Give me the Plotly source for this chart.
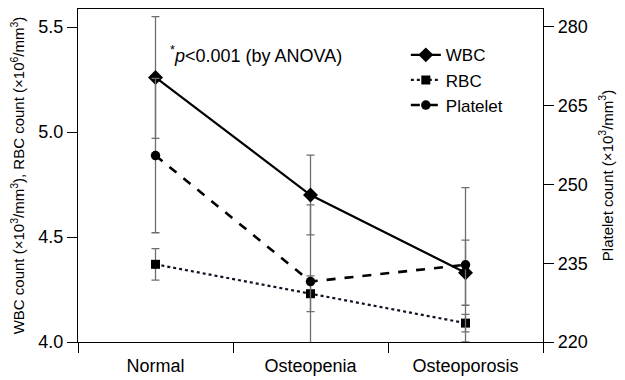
import plotly.graph_objects as go

categories = ["Normal", "Osteopenia", "Osteoporosis"]
wbc = [5.26, 4.70, 4.33]
wbc_sd = [0.29, 0.19, 0.155]
rbc = [4.37, 4.23, 4.09]
rbc_sd = [0.075, 0.085, 0.042]
platelet = [255.5, 231.5, 234.7]
platelet_sd = [14.7, 14.6, 14.7]

FONT = "Liberation Sans, Arial, sans-serif"
EB = "#6e6e6e"

fig = go.Figure()
fig.add_trace(go.Scatter(
    x=categories, y=wbc, name="WBC", mode="lines+markers",
    line=dict(color="black", width=2.2),
    marker=dict(symbol="diamond", size=11.5, color="black"),
    error_y=dict(type="data", array=wbc_sd, visible=True, color=EB, thickness=1.3, width=4),
))
fig.add_trace(go.Scatter(
    x=categories, y=rbc, name="RBC", mode="lines+markers",
    line=dict(color="#111122", width=2.2, dash="dot"),
    marker=dict(symbol="square", size=9, color="black"),
    error_y=dict(type="data", array=rbc_sd, visible=True, color=EB, thickness=1.3, width=4),
))
fig.add_trace(go.Scatter(
    x=categories, y=platelet, name="Platelet", mode="lines+markers", yaxis="y2",
    line=dict(color="black", width=2.6, dash="dash"),
    marker=dict(symbol="circle", size=9.5, color="black"),
    error_y=dict(type="data", array=platelet_sd, visible=True, color=EB, thickness=1.3, width=4),
))

fig.add_annotation(
    x=0.08, y=5.367, xref="x", yref="y", xanchor="left", yanchor="middle",
    text="<sup>*</sup><i>p</i><0.001 (by ANOVA)", showarrow=False,
    font=dict(family=FONT, size=18, color="black"),
)

fig.update_layout(
    width=617, height=372,
    margin=dict(l=70, r=82, t=1, b=38),
    paper_bgcolor="white", plot_bgcolor="white",
    font=dict(family=FONT, size=17, color="black"),
    showlegend=True,
    legend=dict(x=0.705, y=0.915, xanchor="left", yanchor="top",
                bgcolor="rgba(0,0,0,0)", font=dict(size=17), tracegroupgap=0,
                itemwidth=30),
    xaxis=dict(
        type="category", range=[-0.5, 2.5], tickson="boundaries", automargin=False,
        showline=True, linecolor="black", linewidth=1.3, mirror=True,
        ticks="outside", ticklen=10, tickcolor="black", tickwidth=1.3,
        showgrid=False, zeroline=False, tickfont=dict(size=18), ticklabelstandoff=7,
    ),
    yaxis=dict(
        range=[4.0, 5.586], tickvals=[4.0, 4.5, 5.0, 5.5], ticktext=["4.0", "4.5", "5.0", "5.5"],
        automargin=False,
        showline=True, linecolor="black", linewidth=1.3,
        ticks="outside", ticklen=10, tickcolor="black", tickwidth=1.3,
        showgrid=False, zeroline=False, tickfont=dict(size=18),
        title=dict(text="WBC count (×10<sup>3</sup>/mm<sup>3</sup>), RBC count (×10<sup>6</sup>/mm<sup>3</sup>)",
                   font=dict(size=15), standoff=11),
    ),
    yaxis2=dict(
        overlaying="y", side="right",
        range=[220, 283.4], tickvals=[220, 235, 250, 265, 280], automargin=False,
        showline=True, linecolor="black", linewidth=1.3,
        ticks="outside", ticklen=10, tickcolor="black", tickwidth=1.3,
        showgrid=False, zeroline=False, tickfont=dict(size=18),
        title=dict(text="Platelet count (×10<sup>3</sup>/mm<sup>3</sup>)", font=dict(size=15), standoff=15),
    ),
)

fig.write_html("out.html")
